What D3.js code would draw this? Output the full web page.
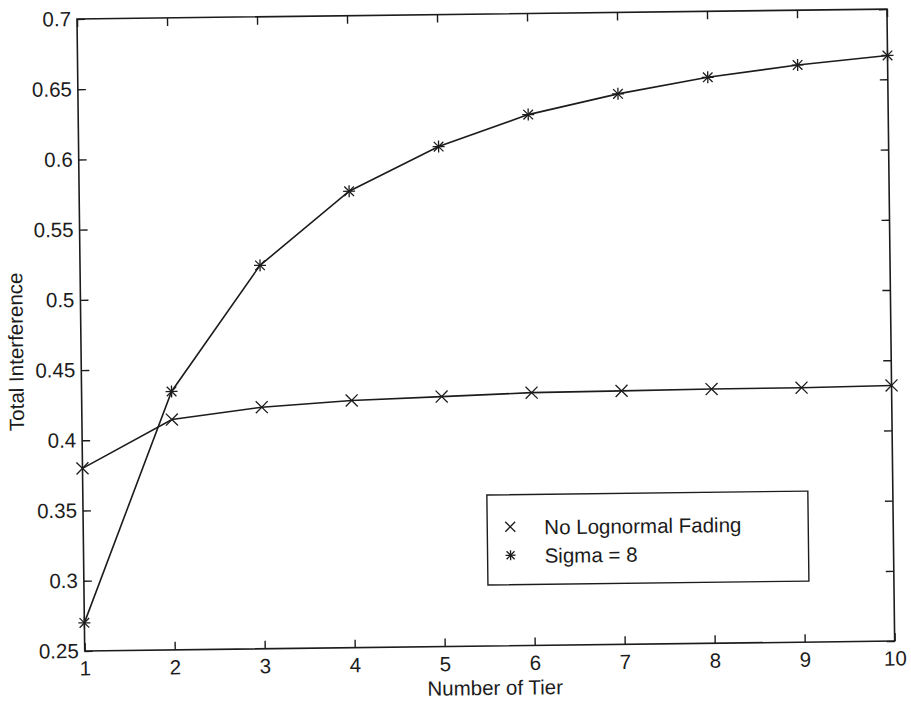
<!DOCTYPE html>
<html>
<head>
<meta charset="utf-8">
<script src="https://cdn.jsdelivr.net/npm/d3@7"></script>
<style>
  html, body { margin: 0; padding: 0; background: #fff; }
  svg { display: block; font-family: "Liberation Sans", Arial, sans-serif; }
</style>
</head>
<body>
<svg id="chart" width="911" height="702"></svg>
<script>
// values
var tiers = [1, 2, 3, 4, 5, 6, 7, 8, 9, 10];
var noFading = [0.380, 0.414, 0.422, 0.426, 0.428, 0.430, 0.4305, 0.431, 0.4312, 0.432];
var sigma8 = [0.270, 0.434, 0.523, 0.575, 0.606, 0.628, 0.642, 0.653, 0.661, 0.667];
var yTicks = [0.25, 0.3, 0.35, 0.4, 0.45, 0.5, 0.55, 0.6, 0.65, 0.7];
var yTickLabels = ['0.25', '0.3', '0.35', '0.4', '0.45', '0.5', '0.55', '0.6', '0.65', '0.7'];
var legendLabels = ['No Lognormal Fading', 'Sigma = 8'];

var W = 810, H = 632;
var ink = '#1c1c1c';

var svg = d3.select('#chart');
svg.append('rect').attr('width', 911).attr('height', 702).attr('fill', '#fff');

// the scan is slightly tilted, so the whole figure is drawn in a rotated frame
var g = svg.append('g').attr('transform', 'translate(77,19) rotate(-0.7)');

var x = d3.scaleLinear().domain([1, 10]).range([0, W]);
var y = d3.scaleLinear().domain([0.25, 0.7]).range([H, 0]);

var styleAxis = function (sel) {
    sel.select('.domain').remove();
    sel.selectAll('.tick line').attr('stroke', ink).attr('stroke-width', 1.4);
    sel.selectAll('.tick text').attr('fill', ink).style('font-size', '20.5px');
};

// bottom / left with labels, ticks pointing inwards
g.append('g').attr('transform', 'translate(0,' + H + ')')
    .call(d3.axisBottom(x).tickValues(tiers).tickFormat(d3.format('d')).tickSize(-8).tickPadding(10))
    .call(styleAxis);
g.append('g')
    .call(d3.axisLeft(y).tickValues(yTicks).tickFormat(function (d, i) { return yTickLabels[i]; })
        .tickSize(-8).tickPadding(6))
    .call(styleAxis);
// top / right without labels
g.append('g')
    .call(d3.axisTop(x).tickValues(tiers).tickFormat('').tickSize(-8))
    .call(styleAxis);
g.append('g').attr('transform', 'translate(' + W + ',0)')
    .call(d3.axisRight(y).tickValues(yTicks).tickFormat('').tickSize(-8))
    .call(styleAxis);

g.selectAll('.tick text').attr('font-family', null);

// frame
g.append('rect').attr('width', W).attr('height', H)
    .attr('fill', 'none').attr('stroke', ink).attr('stroke-width', 1.6);

// axis titles
g.append('text').attr('x', W / 2 + 5).attr('y', H + 49)
    .attr('text-anchor', 'middle').attr('fill', ink).style('font-size', '20.5px')
    .text('Number of Tier');
g.append('text')
    .attr('transform', 'translate(-58,' + (H / 2 + 16) + ') rotate(-90)')
    .attr('text-anchor', 'middle').attr('fill', ink).style('font-size', '20.5px')
    .text('Total Interference');

// markers
var drawCross = function (sel, r) {
    sel.append('path').attr('d', 'M' + (-r) + ',' + (-r) + 'L' + r + ',' + r + 'M' + (-r) + ',' + r + 'L' + r + ',' + (-r))
        .attr('stroke', ink).attr('stroke-width', 1.3).attr('fill', 'none');
};
var drawStar = function (sel, r) {
    drawCross(sel, r * 0.8);
    sel.append('path').attr('d', 'M0,' + (-r) + 'L0,' + r + 'M' + (-r) + ',0L' + r + ',0')
        .attr('stroke', ink).attr('stroke-width', 1.3).attr('fill', 'none');
};

var line = d3.line()
    .x(function (d) { return x(d[0]); })
    .y(function (d) { return y(d[1]); });

var series = [
    { values: noFading, marker: drawCross },
    { values: sigma8, marker: drawStar }
];

series.forEach(function (s) {
    var pts = tiers.map(function (t, i) { return [t, s.values[i]]; });
    g.append('path').datum(pts).attr('d', line)
        .attr('fill', 'none').attr('stroke', ink).attr('stroke-width', 1.6);
    g.selectAll(null).data(pts).enter().append('g')
        .attr('transform', function (d) { return 'translate(' + x(d[0]) + ',' + y(d[1]) + ')'; })
        .each(function () { s.marker(d3.select(this), 6); });
});

// legend
var lg = g.append('g').attr('transform', 'translate(404,481)');
lg.append('rect').attr('width', 321).attr('height', 90)
    .attr('fill', '#fff').attr('stroke', ink).attr('stroke-width', 1.4);
series.forEach(function (s, i) {
    var row = lg.append('g').attr('transform', 'translate(0,' + (32 + i * 28.5) + ')');
    row.append('g').attr('transform', 'translate(23,0)').each(function () { s.marker(d3.select(this), 5); });
    row.append('text').attr('x', 57).attr('y', 8).attr('fill', ink).style('font-size', '20.5px')
        .text(legendLabels[i]);
});
</script>
</body>
</html>
